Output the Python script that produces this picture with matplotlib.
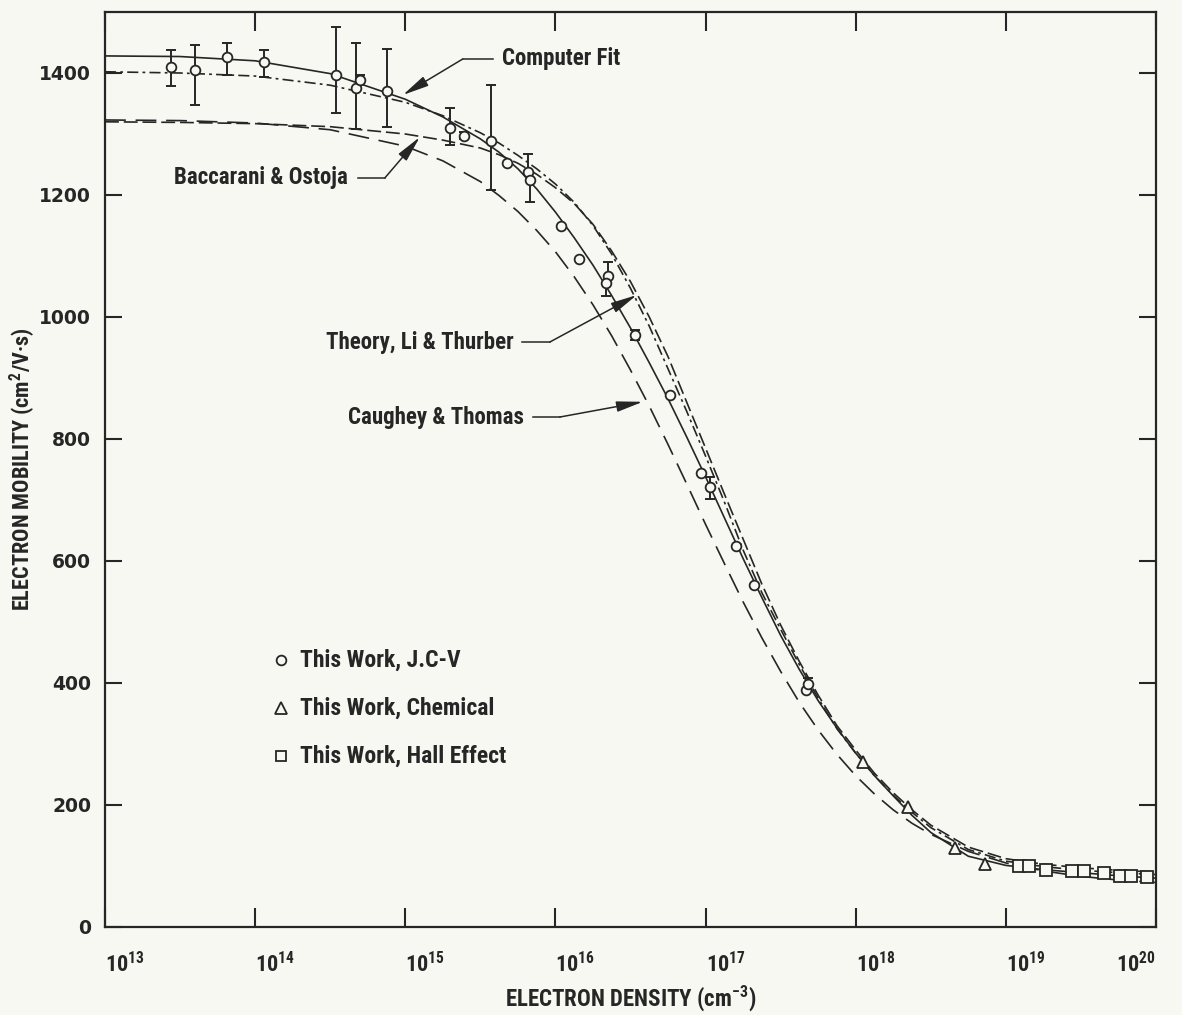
import matplotlib
matplotlib.use("Agg")
import matplotlib.pyplot as plt
from matplotlib import font_manager as fm
from matplotlib.ticker import NullLocator, FixedLocator
from matplotlib.transforms import ScaledTranslation

# ---------------------------------------------------------------- data
# electron density is given as log10(N / cm^-3)
curve_logn = [13.0, 13.5, 14.0, 14.5, 15.0, 15.25, 15.5, 15.625, 15.75, 15.875,
              16.0, 16.125, 16.25, 16.375, 16.5, 16.625, 16.75, 16.875, 17.0,
              17.125, 17.25, 17.375, 17.5, 17.625, 17.75, 17.875, 18.0, 18.125,
              18.25, 18.375, 18.5, 18.75, 19.0, 19.25, 19.5, 19.75, 20.0]

computer_fit = [1428, 1427, 1420, 1399, 1357, 1328, 1292, 1270, 1243, 1210,
                1172, 1130, 1085, 1035, 982, 925, 866, 803, 738,
                671, 604, 540, 478, 422, 371, 326, 285, 248,
                215, 183, 155, 116, 101, 94, 89, 84, 80]

li_thurber = [1402, 1400, 1395, 1380, 1352, 1330, 1302, 1285, 1265, 1243,
              1218, 1188, 1150, 1103, 1047, 985, 915, 845, 772,
              697, 618, 548, 488, 430, 375, 325, 285, 248,
              216, 188, 163, 127, 108, 99, 93, 89, 86]

baccarani = [1320, 1319, 1317, 1312, 1300, 1290, 1277, 1266, 1252, 1234,
             1212, 1186, 1152, 1108, 1058, 1000, 935, 860, 785,
             710, 636, 562, 495, 435, 380, 330, 290, 252,
             220, 192, 167, 131, 112, 103, 97, 93, 90]

caughey = [1323, 1322, 1318, 1307, 1280, 1256, 1222, 1199, 1173, 1142,
           1107, 1066, 1020, 969, 913, 854, 791, 726, 660,
           596, 533, 474, 419, 368, 323, 283, 248, 218,
           192, 170, 152, 124, 105, 92, 83, 77, 73]

# This Work, J.C-V (circles) with error-bar extents (0 = no bar on that side)
jcv_logn = [13.44, 13.60, 13.81, 14.06, 14.54, 14.67, 14.70, 14.88, 15.30, 15.39,
            15.57, 15.68, 15.82, 15.83, 16.04, 16.16, 16.35, 16.34, 16.53, 16.76,
            16.97, 17.03, 17.20, 17.32, 17.67, 17.68]
jcv_mu = [1410, 1405, 1427, 1418, 1396, 1375, 1388, 1371, 1310, 1297,
          1288, 1252, 1237, 1225, 1149, 1095, 1068, 1055, 970, 872,
          745, 721, 625, 561, 388, 399]
jcv_err_low = [32, 57, 30, 24, 62, 66, 5, 59, 28, 6,
               79, 0, 0, 36, 0, 0, 0, 21, 8, 0,
               0, 20, 0, 0, 0, 0]
jcv_err_high = [28, 41, 22, 20, 79, 75, 8, 69, 32, 6,
                92, 0, 30, 0, 0, 0, 22, 0, 8, 0,
                0, 17, 0, 0, 0, 9]

# This Work, Chemical (triangles)
chem_logn = [18.05, 18.35, 18.66, 18.86]
chem_mu = [271, 197, 129, 104]

# This Work, Hall Effect (squares)
hall_logn = [19.085, 19.152, 19.265, 19.438, 19.518, 19.651, 19.758, 19.831, 19.937]
hall_mu = [100, 100, 93, 91, 91, 88, 83, 84, 82]

x_exponents = [13, 14, 15, 16, 17, 18, 19, 20]
y_ticks = [0, 200, 400, 600, 800, 1000, 1200, 1400]

# ---------------------------------------------------------------- style
def first_font(names):
    have = {f.name for f in fm.fontManager.ttflist}
    for n in names:
        if n in have:
            return n
    return "DejaVu Sans"

NARROW = first_font(["Liberation Sans Narrow", "Roboto Condensed", "DejaVu Sans"])
INK = "#262626"
PAPER = "#f8f8f3"

plt.rcParams.update({
    "font.family": NARROW,
    "font.weight": "bold",
    "axes.labelweight": "bold",
    "mathtext.default": "regular",
    "lines.scale_dashes": False,
    "axes.linewidth": 1.6,
})

fig = plt.figure(figsize=(11.82, 10.15), dpi=100, facecolor=PAPER)
W, H = 1182, 1015
ax = fig.add_axes([105 / W, 1 - 927 / H, (1156 - 105) / W, (927 - 12) / H])
ax.set_facecolor(PAPER)
for s in ax.spines.values():
    s.set_color(INK)

def xs(vals):
    return [10.0 ** v for v in vals]

lw = 1.2
ax.plot(xs(curve_logn), caughey, color=INK, lw=lw, ls=(0, (15, 7)), zorder=2)
ax.plot(xs(curve_logn), baccarani, color=INK, lw=lw, ls=(0, (10, 3.5)), zorder=2)
ax.plot(xs(curve_logn), li_thurber, color=INK, lw=lw, ls=(0, (8, 3, 2, 3)), zorder=2)
ax.plot(xs(curve_logn), computer_fit, color=INK, lw=lw, ls="-", zorder=2)

# error bars, then hollow markers on top so the curves break at the points
ax.errorbar(xs(jcv_logn), jcv_mu, yerr=[jcv_err_low, jcv_err_high], fmt="none",
            ecolor=INK, elinewidth=1.4, capsize=3.8, capthick=1.4, zorder=3)
ax.plot(xs(jcv_logn), jcv_mu, ls="none", marker="o", ms=7, mew=1.3,
        mec=INK, mfc=PAPER, zorder=4)
ax.plot(xs(chem_logn), chem_mu, ls="none", marker="^", ms=8.5, mew=1.3,
        mec=INK, mfc=PAPER, zorder=4)
ax.plot(xs(hall_logn), hall_mu, ls="none", marker="s", ms=8, mew=1.3,
        mec=INK, mfc=PAPER, zorder=4)

ax.set_xscale("log")
ax.set_xlim(1e13, 1e20)
ax.set_ylim(0, 1500)

ax.xaxis.set_major_locator(FixedLocator(xs(x_exponents)))
ax.xaxis.set_minor_locator(NullLocator())
ax.set_xticklabels([r"$10^{%d}$" % e for e in x_exponents], fontsize=16,
                   color=INK, ha="left")
labels = ax.get_xticklabels()
for lab in labels[:-1]:
    lab.set_transform(lab.get_transform()
                      + ScaledTranslation(-0.10, 0, fig.dpi_scale_trans))
labels[-1].set_horizontalalignment("right")
labels[-1].set_transform(labels[-1].get_transform()
                         + ScaledTranslation(0.23, 0, fig.dpi_scale_trans))

ax.set_yticks(y_ticks)
ax.set_yticklabels([str(v) for v in y_ticks], fontsize=13.5, color=INK,
                   family="DejaVu Sans", weight="bold")
ax.tick_params(axis="x", direction="in", length=14, width=1.5, top=True,
               pad=18, colors=INK)
ax.tick_params(axis="y", direction="in", length=12, width=1.5, right=True,
               pad=10, colors=INK)

ax.set_xlabel(r"ELECTRON DENSITY (cm$^{-3}$)", fontsize=16.5, color=INK)
ax.xaxis.set_label_coords(0.5, -0.078)
ax.xaxis.label.set_verticalalignment("center")
ax.set_ylabel(r"ELECTRON MOBILITY (cm$^{2}$/V·s)", fontsize=16, color=INK)
ax.yaxis.set_label_coords(-0.078, 0.50)
ax.yaxis.label.set_verticalalignment("center")

# ---------------------------------------------------------------- curve labels
def callout(text, text_xy, start, knee, tip, ha):
    ax.text(10 ** text_xy[0], text_xy[1], text, fontsize=16.5, color=INK,
            ha=ha, va="center")
    ax.plot([10 ** start[0], 10 ** knee[0]], [start[1], knee[1]],
            color=INK, lw=1.1, zorder=5)
    ax.annotate("", xy=(10 ** tip[0], tip[1]), xytext=(10 ** knee[0], knee[1]),
                arrowprops=dict(arrowstyle="-|>,head_length=0.8,head_width=0.16",
                                mutation_scale=20, lw=1.1, color=INK,
                                shrinkA=0, shrinkB=0), zorder=5)

callout("Computer Fit", (15.643, 1423), (15.583, 1423), (15.383, 1423),
        (14.984, 1364), "left")
callout("Baccarani & Ostoja", (14.62, 1228), (14.684, 1228), (14.864, 1228),
        (15.097, 1295), "right")
callout("Theory, Li & Thurber", (15.72, 959), (15.776, 959), (15.963, 959),
        (16.542, 1036), "right")
callout("Caughey & Thomas", (15.79, 836), (15.85, 836), (16.029, 836),
        (16.582, 861), "right")

# ---------------------------------------------------------------- key
key_rows = [("o", 7.0, "This Work, J.C-V", 660),
            ("^", 8.0, "This Work, Chemical", 708),
            ("s", 7.5, "This Work, Hall Effect", 756)]
for mk, size, label, ypix in key_rows:
    fy = 1 - ypix / H
    fig.lines.append(plt.Line2D([281 / W], [fy], transform=fig.transFigure,
                                ls="none", marker=mk, ms=size, mew=1.3,
                                mec=INK, mfc=PAPER))
    fig.text(300 / W, fy, label, fontsize=17, color=INK, ha="left", va="center")

fig.savefig("out.png", dpi=100, facecolor=PAPER)
